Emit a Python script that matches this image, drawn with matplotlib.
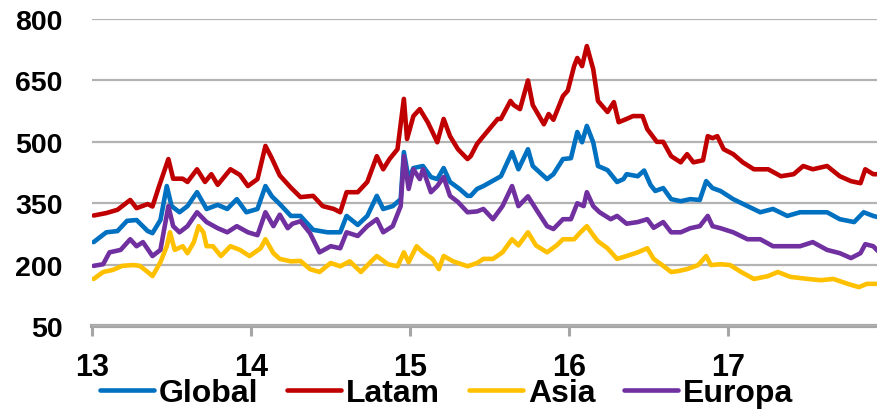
import numpy as np
import matplotlib.pyplot as plt

# Spreads by region (bp), dates as decimal years (13 = 2013)
latam_t = [13.01, 13.09, 13.16, 13.24, 13.28, 13.35, 13.38, 13.42, 13.48, 13.51,
           13.57, 13.60, 13.66, 13.71, 13.75, 13.79, 13.87, 13.93, 13.98, 14.04,
           14.09, 14.13, 14.18, 14.25, 14.31, 14.39, 14.45, 14.52, 14.56, 14.60,
           14.67, 14.73, 14.79, 14.83, 14.87, 14.92, 14.96, 14.98, 15.02, 15.06,
           15.11, 15.14, 15.17, 15.21, 15.25, 15.30, 15.36, 15.38, 15.42, 15.46,
           15.55, 15.57, 15.63, 15.65, 15.69, 15.74, 15.77, 15.84, 15.87, 15.90,
           15.96, 15.99, 16.03, 16.05, 16.08, 16.11, 16.15, 16.18, 16.24, 16.28,
           16.31, 16.36, 16.40, 16.46, 16.49, 16.55, 16.59, 16.64, 16.70, 16.74,
           16.78, 16.84, 16.87, 16.90, 16.93, 16.97, 17.03, 17.09, 17.16, 17.25,
           17.33, 17.41, 17.47, 17.53, 17.62, 17.70, 17.77, 17.83, 17.86, 17.91,
           17.94]
latam = [320, 326, 334, 358, 338, 348, 342, 390, 458, 410,
         410, 402, 433, 402, 421, 395, 433, 419, 392, 409,
         490, 460, 418, 388, 365, 368, 343, 336, 328, 377,
         377, 402, 465, 433, 458, 482, 605, 507, 563, 580,
         548, 524, 499, 556, 514, 482, 458, 465, 495, 514,
         556, 556, 600, 590, 580, 650, 590, 543, 568, 554,
         612, 625, 685, 705, 685, 734, 678, 600, 573, 597,
         548, 556, 563, 563, 531, 500, 500, 465, 450, 470,
         450, 455, 514, 509, 514, 482, 470, 450, 433, 433,
         416, 421, 441, 433, 441, 416, 404, 399, 433, 421,
         421]

global_t = [13.01, 13.09, 13.16, 13.22, 13.28, 13.35, 13.38, 13.43, 13.47, 13.50,
            13.55, 13.60, 13.66, 13.72, 13.79, 13.85, 13.91, 13.97, 14.04, 14.09,
            14.13, 14.18, 14.25, 14.31, 14.39, 14.48, 14.56, 14.60, 14.67, 14.73,
            14.79, 14.83, 14.89, 14.94, 14.96, 14.99, 15.02, 15.08, 15.13, 15.17,
            15.21, 15.25, 15.31, 15.36, 15.38, 15.42, 15.46, 15.57, 15.64, 15.68,
            15.74, 15.77, 15.86, 15.90, 15.96, 16.01, 16.05, 16.08, 16.11, 16.15,
            16.18, 16.24, 16.30, 16.34, 16.36, 16.43, 16.47, 16.51, 16.54, 16.59,
            16.64, 16.70, 16.76, 16.82, 16.86, 16.90, 16.95, 17.03, 17.12, 17.20,
            17.28, 17.37, 17.45, 17.53, 17.62, 17.70, 17.79, 17.85, 17.91, 17.94]
global_ = [255, 279, 282, 307, 309, 282, 277, 309, 392, 343,
           328, 343, 377, 336, 346, 336, 360, 328, 336, 392,
           367, 348, 319, 319, 285, 279, 279, 319, 297, 319,
           368, 336, 343, 360, 475, 409, 436, 441, 414, 409,
           436, 402, 385, 368, 368, 385, 392, 416, 475, 433,
           482, 441, 409, 421, 458, 460, 524, 499, 539, 499,
           441, 431, 402, 409, 421, 416, 430, 395, 380, 387,
           360, 355, 360, 358, 404, 387, 380, 360, 343, 328,
           336, 319, 328, 328, 328, 311, 304, 328, 319, 316]

asia_t = [13.01, 13.07, 13.13, 13.19, 13.26, 13.30, 13.35, 13.38, 13.43, 13.47,
          13.49, 13.52, 13.57, 13.60, 13.64, 13.67, 13.70, 13.72, 13.76, 13.81,
          13.87, 13.93, 13.99, 14.06, 14.09, 14.14, 14.18, 14.25, 14.31, 14.37,
          14.43, 14.50, 14.56, 14.62, 14.69, 14.75, 14.79, 14.86, 14.92, 14.96,
          14.99, 15.04, 15.08, 15.14, 15.18, 15.21, 15.27, 15.36, 15.42, 15.46,
          15.52, 15.58, 15.64, 15.68, 15.74, 15.79, 15.86, 15.92, 15.96, 16.03,
          16.07, 16.11, 16.15, 16.18, 16.24, 16.30, 16.36, 16.43, 16.49, 16.53,
          16.59, 16.64, 16.68, 16.74, 16.81, 16.86, 16.89, 16.95, 17.01, 17.08,
          17.16, 17.25, 17.31, 17.39, 17.50, 17.58, 17.66, 17.75, 17.82, 17.87,
          17.94]
asia = [165, 182, 187, 197, 199, 197, 182, 172, 206, 245,
        279, 236, 245, 228, 255, 294, 279, 245, 245, 221,
        245, 236, 221, 240, 262, 228, 214, 208, 209, 189,
        182, 204, 196, 208, 182, 206, 221, 201, 196, 230,
        206, 245, 230, 214, 189, 221, 208, 196, 204, 214,
        214, 230, 262, 247, 279, 247, 230, 247, 262, 262,
        279, 294, 272, 257, 240, 214, 221, 230, 240, 214,
        197, 182, 184, 189, 199, 221, 199, 201, 199, 182,
        165, 172, 182, 170, 165, 162, 165, 153, 145, 153,
        153]

europa_t = [13.01, 13.07, 13.11, 13.18, 13.24, 13.28, 13.32, 13.38, 13.43, 13.48,
            13.51, 13.55, 13.60, 13.66, 13.72, 13.79, 13.85, 13.91, 13.98, 14.04,
            14.09, 14.14, 14.18, 14.23, 14.26, 14.31, 14.37, 14.43, 14.50, 14.56,
            14.60, 14.67, 14.73, 14.79, 14.83, 14.89, 14.94, 14.96, 14.99, 15.02,
            15.06, 15.08, 15.13, 15.17, 15.21, 15.25, 15.30, 15.36, 15.42, 15.46,
            15.52, 15.58, 15.64, 15.68, 15.74, 15.79, 15.86, 15.90, 15.96, 16.01,
            16.05, 16.09, 16.11, 16.15, 16.19, 16.26, 16.30, 16.36, 16.43, 16.49,
            16.53, 16.59, 16.64, 16.70, 16.76, 16.82, 16.87, 16.90, 16.95, 17.03,
            17.12, 17.20, 17.28, 17.37, 17.45, 17.53, 17.62, 17.70, 17.77, 17.83,
            17.86, 17.91, 17.94]
europa = [197, 201, 230, 236, 262, 245, 255, 221, 236, 343,
          294, 279, 294, 328, 304, 289, 279, 294, 279, 272,
          328, 294, 322, 289, 300, 306, 277, 230, 245, 240,
          279, 270, 294, 311, 279, 294, 343, 465, 385, 433,
          409, 433, 377, 392, 414, 368, 353, 328, 330, 336,
          311, 343, 392, 343, 367, 336, 294, 287, 311, 311,
          350, 343, 377, 343, 328, 311, 319, 300, 304, 311,
          290, 304, 279, 279, 289, 294, 319, 294, 289, 279,
          262, 262, 245, 245, 245, 255, 236, 228, 216, 228,
          250, 245, 233]

series = [
    ("Global", global_t, global_, "#0070C0"),
    ("Latam", latam_t, latam, "#C00000"),
    ("Asia", asia_t, asia, "#FFC000"),
    ("Europa", europa_t, europa, "#7030A0"),
]
years = [13, 14, 15, 16, 17]
yticks = [50, 200, 350, 500, 650, 800]

plt.rcParams['font.family'] = ['Liberation Sans', 'DejaVu Sans']
plt.rcParams['font.weight'] = 'bold'

fig = plt.figure(figsize=(8.78, 4.10), dpi=100)
ax = fig.add_axes([0.1048, 0.2024, 0.8952, 0.7486])

for name, t, v, c in series:
    ax.plot(t, v, color=c, lw=3.3, label=name,
            solid_joinstyle='round', solid_capstyle='round')

ax.set_xlim(13, 17.94)
ax.set_ylim(50, 800)
ax.set_yticks(yticks)
ax.set_xticks(years)
ax.set_xticklabels([str(y) for y in years])

ax.grid(axis='y', color='#b3b3b3', lw=1.6)
ax.set_axisbelow(True)
for s in ['top', 'right', 'left']:
    ax.spines[s].set_visible(False)
ax.spines['bottom'].set_color('#a6a6a6')
ax.spines['bottom'].set_linewidth(3)
ax.spines['bottom'].set_zorder(0.5)

ax.tick_params(axis='y', length=0, pad=21, labelsize=20.5)
ax.tick_params(axis='x', length=7, width=2.2, color='#a6a6a6',
               direction='out', pad=12, labelsize=22)
for lab in ax.get_xticklabels() + ax.get_yticklabels():
    lab.set_fontweight('bold')

fig.legend(loc='lower center', bbox_to_anchor=(0.5085, -0.036), ncol=4,
           frameon=False, borderpad=0, handlelength=1.7, handletextpad=0.15,
           columnspacing=0.9,
           prop={'family': 'Liberation Sans', 'weight': 'bold', 'size': 23})

fig.savefig('out.png', dpi=100)
